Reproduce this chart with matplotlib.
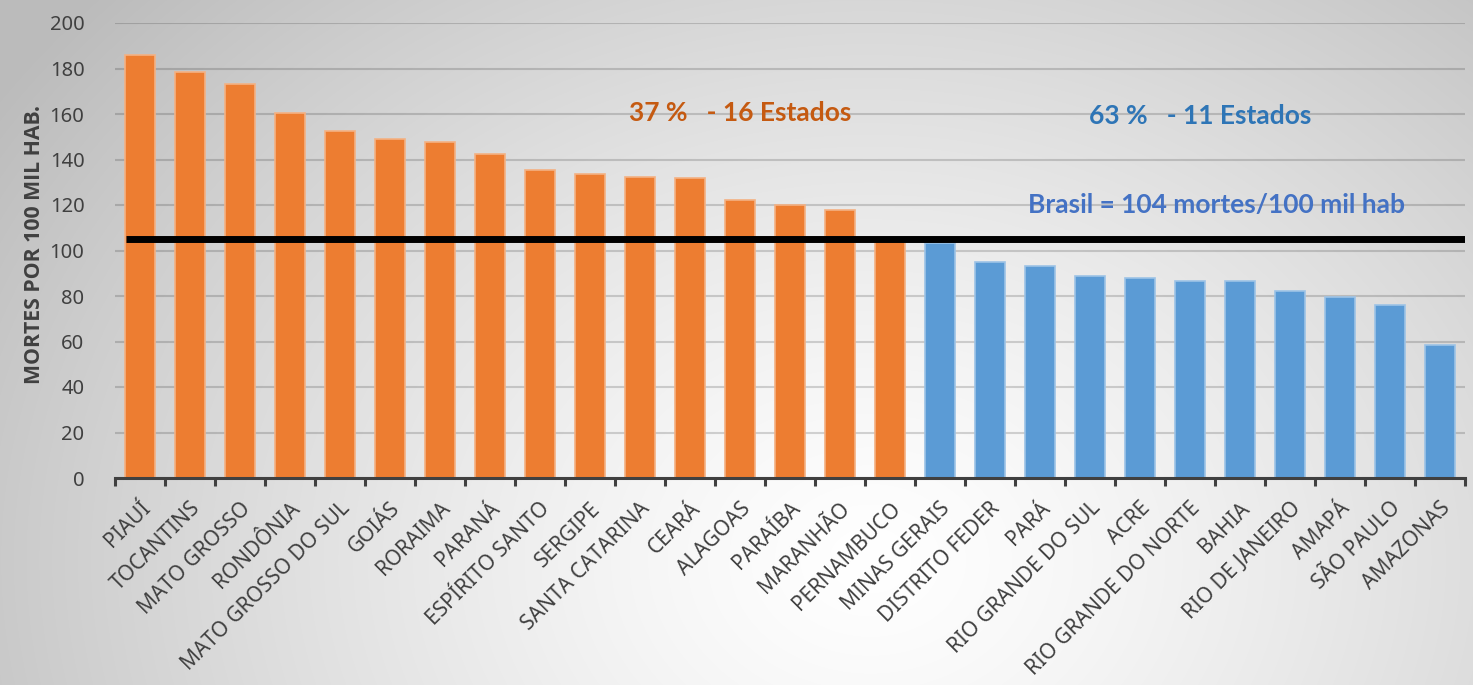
import numpy as np
import matplotlib.pyplot as plt

# ---- dados ----
estados = ['PIAUÍ', 'TOCANTINS', 'MATO GROSSO', 'RONDÔNIA', 'MATO GROSSO DO SUL',
           'GOIÁS', 'RORAIMA', 'PARANÁ', 'ESPÍRITO SANTO', 'SERGIPE',
           'SANTA CATARINA', 'CEARÁ', 'ALAGOAS', 'PARAÍBA', 'MARANHÃO',
           'PERNAMBUCO', 'MINAS GERAIS', 'DISTRITO FEDER', 'PARÁ',
           'RIO GRANDE DO SUL', 'ACRE', 'RIO GRANDE DO NORTE', 'BAHIA',
           'RIO DE JANEIRO', 'AMAPÁ', 'SÃO PAULO', 'AMAZONAS']
mortes = [186, 178.5, 173, 160.5, 152.5, 149, 147.5, 142.5, 135.5, 133.5,
          132.5, 132, 122, 120, 118, 105, 103.5, 95, 93, 89, 88, 86.5, 86.5,
          82, 79.5, 76, 58.5]
n_acima = 16
brasil = 105

C_LAR, C_AZU = '#ED7D31', '#5B9BD5'
E_LAR, E_AZU = '#F4B183', '#9DC3E6'
FONTE = 'Noto Sans'

fig = plt.figure(figsize=(14.73, 6.85), dpi=100)

# fundo em degradê radial
bg = fig.add_axes([0, 0, 1, 1], zorder=-1)
yy, xx = np.mgrid[0:685, 0:1473]
d = np.sqrt(((xx - 870) / 700.0) ** 2 + ((yy - 560) / 560.0) ** 2)
v = np.clip(255 - 40 * d ** 1.3, 188, 255) / 255.0
bg.imshow(np.dstack([v, v, v]), extent=[0, 1, 0, 1], aspect='auto')
bg.axis('off')

ax = fig.add_axes([115 / 1473, 1 - 478 / 685, 1350 / 1473, 455 / 685])
ax.set_facecolor('none')

x = np.arange(len(estados))
cores = [C_LAR if i < n_acima else C_AZU for i in x]
bordas = [E_LAR if i < n_acima else E_AZU for i in x]
ax.bar(x, mortes, width=0.6, color=cores, edgecolor=bordas, linewidth=1.2, zorder=2)

ax.plot([-0.28, 26.5], [brasil, brasil], color='black', lw=5, zorder=3,
        solid_capstyle='butt')

ax.set_xlim(-0.5, len(estados) - 0.5)
ax.set_ylim(0, 200)
ax.set_yticks(range(0, 201, 20))
ax.grid(axis='y', color='black', alpha=0.16, lw=1.5, zorder=0)
ax.set_axisbelow(True)

for s in ['top', 'right', 'left']:
    ax.spines[s].set_visible(False)
ax.spines['bottom'].set_color('#404040')
ax.spines['bottom'].set_linewidth(2.2)
ax.spines['bottom'].set_zorder(4)

ax.tick_params(axis='y', length=0, pad=22, labelsize=14.5, labelcolor='#404040')
ax.set_xticks(np.arange(len(estados) + 1) - 0.5)
ax.set_xticklabels([])
ax.tick_params(axis='x', length=6, width=2.2, color='#404040')
for lbl in ax.get_yticklabels():
    lbl.set_fontfamily(FONTE)

for i, nome in enumerate(estados):
    ax.text(i + 0.14, -12, nome, rotation=45, rotation_mode='anchor',
            ha='right', va='center', fontsize=15, color='#404040',
            family=FONTE)

fig.text(35 / 1473, 1 - 245 / 685, 'MORTES POR 100 MIL HAB.', rotation=90,
         ha='center', va='center', fontsize=15.3, fontweight='bold',
         color='#404040', family='Open Sans')

fig.text(740 / 1473, 1 - 113 / 685, '37 %   - 16 Estados', ha='center', va='center',
         fontsize=19, fontweight='bold', color='#C55A11', family='Lato')
fig.text(1200 / 1473, 1 - 116 / 685, '63 %   - 11 Estados', ha='center', va='center',
         fontsize=19, fontweight='bold', color='#2E75B6', family='Lato')
fig.text(1216 / 1473, 1 - 205 / 685, 'Brasil = 104 mortes/100 mil hab', ha='center',
         va='center', fontsize=19, fontweight='bold', color='#4472C4', family='Lato')

plt.savefig('out.png', dpi=100)
